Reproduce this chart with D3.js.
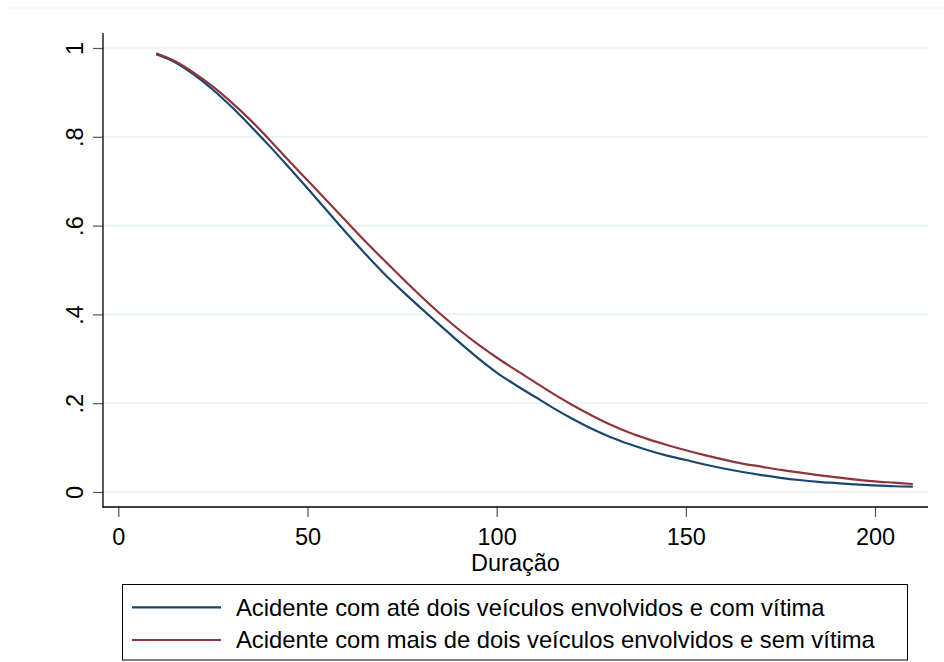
<!DOCTYPE html>
<html>
<head>
<meta charset="utf-8">
<script src="https://cdn.jsdelivr.net/npm/d3@7"></script>
<style>
  html, body { margin: 0; padding: 0; background: #fff; }
  svg { display: block; font-family: "Liberation Sans", Arial, sans-serif; }
</style>
</head>
<body>
<svg id="chart" width="944" height="662"></svg>
<script>
// Survival curves by accident type, over duration
const duration = [10, 15, 20, 25, 30, 35, 40, 45, 50, 55, 60, 65, 70, 75, 80, 85, 90, 95, 100,
  105, 110, 115, 120, 125, 130, 135, 140, 145, 150, 155, 160, 165, 170, 175, 180, 185, 190, 195, 200, 205, 210];
const survComVitima = [0.986, 0.968, 0.940, 0.906, 0.867, 0.824, 0.779, 0.732, 0.684, 0.635, 0.586, 0.539, 0.494,
  0.453, 0.414, 0.376, 0.338, 0.302, 0.269, 0.241, 0.215, 0.189, 0.165, 0.143, 0.124, 0.108, 0.094, 0.082, 0.072,
  0.062, 0.053, 0.045, 0.038, 0.032, 0.027, 0.023, 0.020, 0.017, 0.015, 0.013, 0.012];
const survSemVitima = [0.988, 0.970, 0.944, 0.913, 0.877, 0.837, 0.793, 0.747, 0.702, 0.657, 0.612, 0.567, 0.524,
  0.482, 0.441, 0.402, 0.366, 0.333, 0.303, 0.275, 0.248, 0.221, 0.196, 0.173, 0.152, 0.134, 0.119, 0.106, 0.094,
  0.083, 0.073, 0.064, 0.057, 0.050, 0.044, 0.038, 0.033, 0.028, 0.024, 0.021, 0.018];
const seriesNames = [
  "Acidente com até dois veículos envolvidos e com vítima",
  "Acidente com mais de dois veículos envolvidos e sem vítima"
];
const seriesColors = ["#1a476f", "#90353b"];
const xTicks = [0, 50, 100, 150, 200];
const yTicks = [0, 0.2, 0.4, 0.6, 0.8, 1];
const yTickLabels = ["0", ".2", ".4", ".6", ".8", "1"];
const xTitle = "Duração";

const FS = 23.5;
const LEGEND_FS = 23.8;
const svg = d3.select("#chart");

// Plot region
const axisLeft = 103, axisRight = 928, axisTop = 33, axisBottom = 507;
const x = d3.scaleLinear().domain([0, 200]).range([118.3, 875]);
const y = d3.scaleLinear().domain([0, 1]).range([492, 48]);

// Faint outer frame line
svg.append("line")
  .attr("x1", 6).attr("x2", 944).attr("y1", 8).attr("y2", 8)
  .attr("stroke", "#eef2f3").attr("stroke-width", 1);

// Gridlines
svg.append("g").selectAll("line").data(yTicks).join("line")
  .attr("x1", axisLeft).attr("x2", axisRight)
  .attr("y1", d => y(d)).attr("y2", d => y(d))
  .attr("stroke", "#eaf2f3").attr("stroke-width", 1.6);

// Y axis
const yAxis = d3.axisLeft(y).tickValues(yTicks).tickSize(10).tickPadding(8)
  .tickFormat((d, i) => yTickLabels[i]);
const gy = svg.append("g").attr("transform", `translate(${axisLeft},0)`).call(yAxis);
gy.select(".domain").remove();
gy.selectAll(".tick line").attr("stroke", "#555").attr("stroke-width", 1.2);
gy.selectAll(".tick text")
  .attr("font-size", FS).attr("fill", "#000")
  .attr("text-anchor", "middle")
  .attr("x", null).attr("dy", null)
  .attr("transform", "translate(-28,0) rotate(-90)")
  .attr("dominant-baseline", "central");
svg.append("line")
  .attr("x1", axisLeft).attr("x2", axisLeft).attr("y1", axisTop).attr("y2", axisBottom + 0.5)
  .attr("stroke", "#000").attr("stroke-width", 1.3);

// X axis
const xAxis = d3.axisBottom(x).tickValues(xTicks).tickSize(10).tickPadding(8);
const gx = svg.append("g").attr("transform", `translate(0,${axisBottom})`).call(xAxis);
gx.select(".domain").remove();
gx.selectAll(".tick line").attr("stroke", "#555").attr("stroke-width", 1.2);
gx.selectAll(".tick text").attr("font-size", FS).attr("fill", "#000")
  .attr("y", 38).attr("dy", null);
svg.append("line")
  .attr("x1", axisLeft - 0.5).attr("x2", axisRight).attr("y1", axisBottom).attr("y2", axisBottom)
  .attr("stroke", "#000").attr("stroke-width", 1.3);

svg.append("text")
  .attr("x", (axisLeft + axisRight) / 2).attr("y", 571)
  .attr("text-anchor", "middle").attr("font-size", FS).attr("fill", "#000")
  .text(xTitle);

// Curves
const line = d3.line().x(d => x(d[0])).y(d => y(d[1])).curve(d3.curveMonotoneX);
[survComVitima, survSemVitima].forEach((vals, i) => {
  svg.append("path")
    .datum(duration.map((t, j) => [t, vals[j]]))
    .attr("d", line)
    .attr("fill", "none")
    .attr("stroke", seriesColors[i])
    .attr("stroke-width", 2.2);
});

// Legend
const legend = svg.append("g");
legend.append("rect")
  .attr("x", 122.5).attr("y", 584.5).attr("width", 785).attr("height", 75.5)
  .attr("fill", "#fff").attr("stroke", "#000").attr("stroke-width", 1);
seriesNames.forEach((name, i) => {
  const ly = 607.3 + i * 32.7;
  legend.append("line")
    .attr("x1", 132).attr("x2", 221).attr("y1", ly).attr("y2", ly)
    .attr("stroke", seriesColors[i]).attr("stroke-width", 2.2);
  legend.append("text")
    .attr("x", 236).attr("y", ly + 8.3)
    .attr("font-size", LEGEND_FS).attr("fill", "#000")
    .text(name);
});
</script>
</body>
</html>
